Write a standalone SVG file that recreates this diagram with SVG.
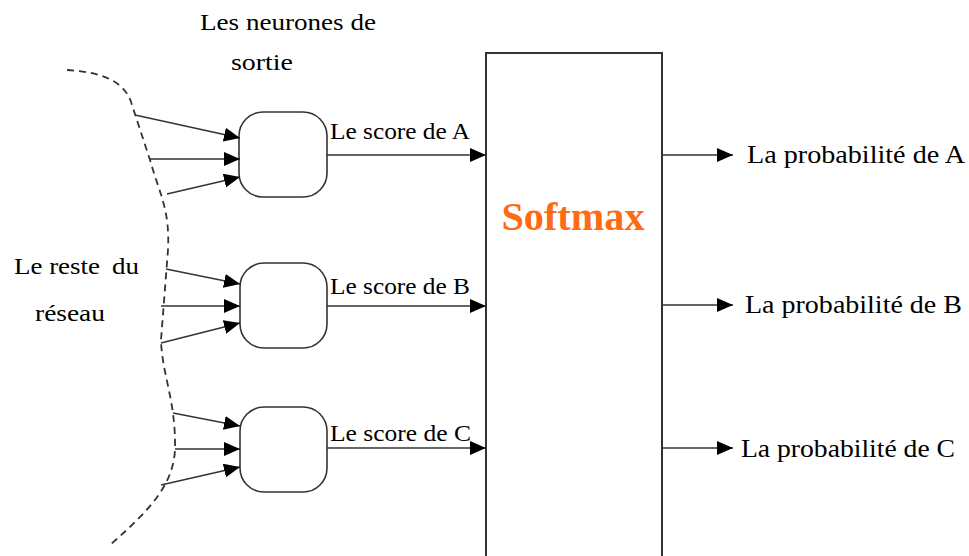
<svg xmlns="http://www.w3.org/2000/svg" width="969" height="556" viewBox="0 0 969 556">
<defs>
<marker id="ah" markerUnits="userSpaceOnUse" markerWidth="16" markerHeight="14" viewBox="0 0 16 14" refX="16" refY="7" orient="auto">
<path d="M0,0 L16,7 L0,14 Z" fill="#000"/>
</marker>
</defs>
<style>
text{font-family:"Liberation Serif","Times New Roman",serif}
.node{fill:#fff;stroke:#333;stroke-width:1.6}
.ln{stroke:#333;stroke-width:1.4;fill:none;marker-end:url(#ah)}
.dash{stroke:#333;stroke-width:1.8;fill:none;stroke-dasharray:7 5}
</style>
<rect width="969" height="556" fill="#fff"/>
<g id="labels" fill="#000">
<text x="288" y="30" font-size="24" text-anchor="middle" textLength="176" lengthAdjust="spacingAndGlyphs">Les neurones de</text>
<text x="262" y="70" font-size="24" text-anchor="middle" textLength="62" lengthAdjust="spacingAndGlyphs">sortie</text>
<text y="274" font-size="24"><tspan x="14" textLength="86" lengthAdjust="spacingAndGlyphs">Le reste</tspan> <tspan x="112" textLength="27" lengthAdjust="spacingAndGlyphs">du</tspan></text>
<text x="70" y="321" font-size="24" text-anchor="middle" textLength="70" lengthAdjust="spacingAndGlyphs">réseau</text>
</g>
<g id="reseau">
<path class="dash" d="M67,70 C100,72 125,80 132,105 L150,160 C160,195 170,210 168,250 L161,340 C162,375 176,400 175,450 C173,485 150,510 110,545"/>
</g>
<g id="neuronA"><rect class="node" x="239" y="112" width="88" height="85" rx="24"/></g>
<g id="neuronB"><rect class="node" x="240" y="263" width="87" height="85" rx="24"/></g>
<g id="neuronC"><rect class="node" x="240" y="407" width="87" height="85" rx="24"/></g>
<g id="softmax">
<rect x="486" y="53" width="176" height="510" fill="#fff" stroke="#333" stroke-width="2"/>
<text x="573" y="230" font-weight="bold" font-size="40" fill="#FF6A13" text-anchor="middle" textLength="143" lengthAdjust="spacingAndGlyphs">Softmax</text>
</g>
<g id="connectors">
<line class="ln" x1="135" y1="115" x2="240" y2="138"/>
<line class="ln" x1="150" y1="159" x2="240" y2="159"/>
<line class="ln" x1="167" y1="194" x2="240" y2="177"/>
<line class="ln" x1="166" y1="269" x2="240" y2="284"/>
<line class="ln" x1="161" y1="306" x2="240" y2="306"/>
<line class="ln" x1="161" y1="343" x2="240" y2="323"/>
<line class="ln" x1="173" y1="413" x2="240" y2="426"/>
<line class="ln" x1="175" y1="449" x2="240" y2="449"/>
<line class="ln" x1="161" y1="485" x2="240" y2="467"/>
<line class="ln" x1="327" y1="155" x2="486" y2="155"/>
<line class="ln" x1="327" y1="306" x2="486" y2="306"/>
<line class="ln" x1="327" y1="448" x2="486" y2="448"/>
<line class="ln" x1="662" y1="155" x2="733" y2="155"/>
<line class="ln" x1="662" y1="305" x2="733" y2="305"/>
<line class="ln" x1="662" y1="448" x2="733" y2="448"/>
</g>
<g id="edge-labels" fill="#000">
<text x="330" y="139" font-size="23" textLength="140" lengthAdjust="spacingAndGlyphs">Le score de A</text>
<text x="330" y="294" font-size="23" textLength="140" lengthAdjust="spacingAndGlyphs">Le score de B</text>
<text x="330" y="441" font-size="23" textLength="141" lengthAdjust="spacingAndGlyphs">Le score de C</text>
<text x="747" y="163" font-size="25" textLength="218" lengthAdjust="spacingAndGlyphs">La probabilité de A</text>
<text x="745" y="313" font-size="25" textLength="217" lengthAdjust="spacingAndGlyphs">La probabilité de B</text>
<text x="741" y="457" font-size="25" textLength="214" lengthAdjust="spacingAndGlyphs">La probabilité de C</text>
</g>
</svg>
